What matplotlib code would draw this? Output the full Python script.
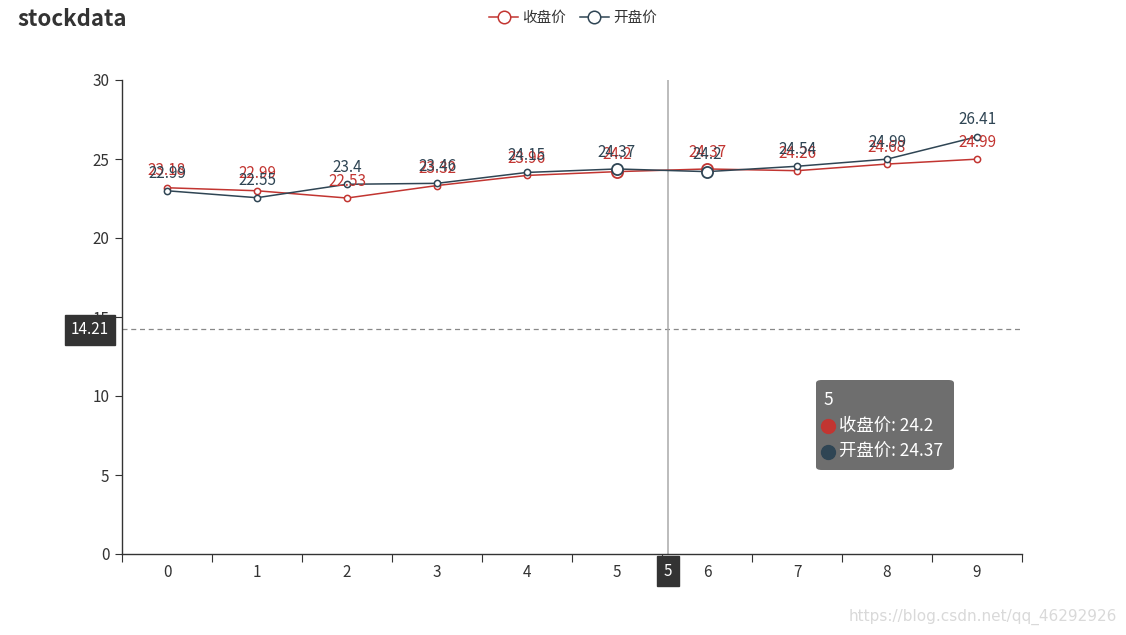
import numpy as np
import matplotlib
matplotlib.use("Agg")
import matplotlib.pyplot as plt
from matplotlib.patches import FancyBboxPatch
from matplotlib.lines import Line2D

plt.rcParams['font.family'] = ['Noto Sans CJK SC', 'DejaVu Sans']

# data
categories = ['0', '1', '2', '3', '4', '5', '6', '7', '8', '9']
closePrice = [23.18, 22.99, 22.53, 23.32, 23.96, 24.2, 24.37, 24.26, 24.68, 24.99]
openPrice = [22.99, 22.55, 23.4, 23.46, 24.15, 24.37, 24.2, 24.54, 24.99, 26.41]
seriesNames = ['收盘价', '开盘价']
pointerValue = 14.21
pointerCategory = '5'
highlighted = [5, 6]

RED = '#c23531'
DARK = '#2f4554'
AXIS = '#333333'

W, H = 1126, 635
fig = plt.figure(figsize=(W / 100, H / 100), dpi=100)
ax = fig.add_axes([122 / W, 1 - 554 / H, 900 / W, 474 / H])

def fx(px):
    return px / W

def fy(py):
    return 1 - py / H

x = np.arange(len(categories))

for values, color, name in [(closePrice, RED, seriesNames[0]), (openPrice, DARK, seriesNames[1])]:
    ax.plot(x, values, color=color, lw=1.1, marker='o', ms=4.5, mfc='white',
            mec=color, mew=1.1, label=name, zorder=3)
    for i in highlighted:
        ax.plot(x[i], values[i], marker='o', ms=8, mfc='white', mec=color, mew=1.3, zorder=4)
    for i, v in enumerate(values):
        ax.annotate('{:g}'.format(v), (x[i], v), xytext=(0, 6), textcoords='offset points',
                    ha='center', va='bottom', color=color, fontsize=11, zorder=5)

ax.set_xlim(-0.5, len(categories) - 0.5)
ax.set_ylim(0, 30)
ax.set_yticks(np.arange(0, 31, 5))
ax.set_xticks(np.arange(-0.5, len(categories), 1))
ax.set_xticklabels([])
ax.set_xticks(x, minor=True)
ax.set_xticklabels(categories, minor=True)
ax.tick_params(axis='x', which='major', length=6, color=AXIS, direction='out')
ax.tick_params(axis='x', which='minor', length=0, pad=7, labelsize=11, labelcolor=AXIS)
ax.tick_params(axis='y', length=5, color=AXIS, pad=4, labelsize=11, labelcolor=AXIS)
for s in ['top', 'right']:
    ax.spines[s].set_visible(False)
for s in ['left', 'bottom']:
    ax.spines[s].set_color(AXIS)
    ax.spines[s].set_linewidth(1)

# axis pointer (cross)
ax.axhline(pointerValue, color='#888888', lw=0.9, ls=(0, (4, 3)), zorder=1)
pointerX = 5.567
ax.axvline(pointerX, color='#aaaaaa', lw=1.1, zorder=1)
fig.text(fx(90), fy(330), '{:g}'.format(pointerValue), ha='center', va='center', color='white',
         fontsize=11,
         bbox=dict(boxstyle='square,pad=0.4', fc='#333333', ec='#333333'))
fig.text(fx(668), fy(571), pointerCategory, ha='center', va='center', color='white',
         fontsize=11,
         bbox=dict(boxstyle='square,pad=0.45', fc='#333333', ec='#333333'))

# title
fig.text(fx(17), fy(19), 'stockdata', ha='left', va='center', fontsize=16,
         fontweight='bold', color='#333333')

# legend
handles = [Line2D([0], [0], color=c, lw=1.1, marker='o', ms=9, mfc='white', mec=c, mew=1.1)
           for c in (RED, DARK)]
fig.legend(handles, seriesNames, loc='center', bbox_to_anchor=(fx(573), fy(18)), ncol=2,
           frameon=False, fontsize=10.5, handlelength=2.0, handletextpad=0.3,
           columnspacing=0.9, labelcolor='#333333')

# tooltip
tip = FancyBboxPatch((fx(816), fy(470)), fx(954) - fx(816), fy(380) - fy(470),
                     boxstyle='round,pad=0,rounding_size=0.005', transform=fig.transFigure,
                     fc='#6e6e6e', ec='none', zorder=10)
fig.patches.append(tip)
fig.text(fx(823), fy(400), pointerCategory, ha='left', va='center', color='white',
         fontsize=12.5, zorder=11)
idx = categories.index(pointerCategory)
for row, (name, values, color) in enumerate([(seriesNames[0], closePrice, RED),
                                             (seriesNames[1], openPrice, DARK)]):
    py = 426 + row * 26
    fig.add_artist(Line2D([fx(828)], [fy(py)], marker='o', ms=10, color=color,
                          mec=color, transform=fig.transFigure, zorder=11))
    fig.text(fx(839), fy(py), '{}: {:g}'.format(name, values[idx]), ha='left', va='center',
             color='white', fontsize=12.5, zorder=11)

# watermark
fig.text(fx(1117), fy(617), 'https://blog.csdn.net/qq_46292926', ha='right', va='center',
         color='#d9d9d9', fontsize=11, family=['DejaVu Sans'])

fig.savefig('out.png', dpi=100)
